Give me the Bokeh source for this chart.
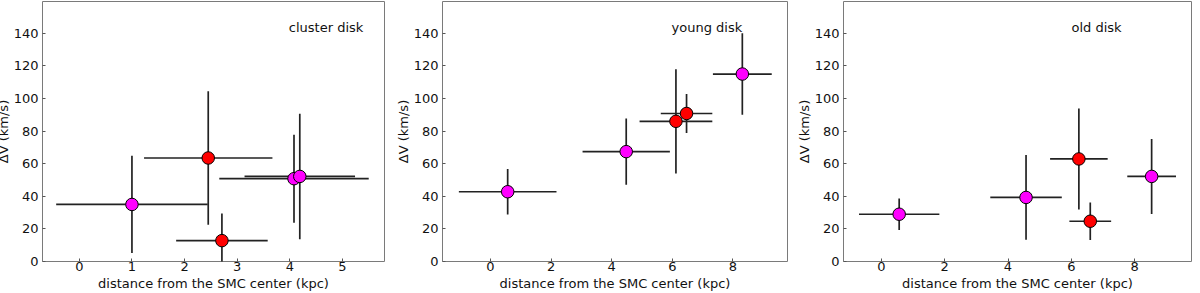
from bokeh.plotting import figure
from bokeh.layouts import row
from bokeh.models import Range1d, FixedTicker, Label
from bokeh.embed import file_html
from bokeh.resources import INLINE

# ---- data ----
# cluster disk
c_x = [1.00, 2.45, 2.71, 4.08, 4.19]
c_y = [35.0, 63.5, 12.8, 50.8, 52.2]
c_xerr = [1.44, 1.22, 0.87, 1.42, 1.05]
c_yerr = [29.8, 41.0, 16.7, 27.0, 38.5]
c_col = ["magenta", "red", "red", "magenta", "magenta"]

# young disk
y_x = [0.57, 4.48, 6.12, 6.47, 8.31]
y_y = [42.8, 67.4, 86.0, 90.8, 115.0]
y_xerr = [1.61, 1.44, 1.20, 0.85, 0.97]
y_yerr = [14.0, 20.3, 32.0, 12.0, 25.0]
y_col = ["magenta", "magenta", "red", "red", "magenta"]

# old disk
o_x = [0.56, 4.57, 6.24, 6.60, 8.54]
o_y = [29.0, 39.3, 62.9, 24.7, 52.2]
o_xerr = [1.27, 1.13, 0.91, 0.66, 0.77]
o_yerr = [9.7, 26.0, 31.0, 11.5, 23.0]
o_col = ["magenta", "magenta", "red", "red", "magenta"]

titles = ["cluster disk", "young disk", "old disk"]
xranges = [(-0.7, 5.8), (-1.58, 9.8), (-1.2, 9.8)]
xticks = [[0, 1, 2, 3, 4, 5], [0, 2, 4, 6, 8], [0, 2, 4, 6, 8]]
yticks = [0, 20, 40, 60, 80, 100, 120, 140]
title_pos = [(4.69, 143.5), (7.14, 143.5), (6.8, 143.5)]
x_label = "distance from the SMC center (kpc)"
y_label = "ΔV (km/s)"

FONT = "DejaVu Sans"
colmap = {"magenta": "#ff00ff", "red": "#ff0000"}


def panel(xs, ys, xe, ye, cols, title, xr, xt, tpos, left, right):
    p = figure(width=400, height=293, sizing_mode="fixed",
               output_backend="svg", toolbar_location=None,
               x_range=Range1d(*xr), y_range=Range1d(0, 159.5),
               min_border_left=left, min_border_right=right,
               min_border_top=1, min_border_bottom=32)
    p.outline_line_color = "#7a7a7a"
    p.outline_line_width = 1
    p.xgrid.visible = False
    p.ygrid.visible = False
    p.background_fill_color = "white"
    p.border_fill_color = "white"
    # error bars
    p.segment(x0=[x - e for x, e in zip(xs, xe)], x1=[x + e for x, e in zip(xs, xe)],
              y0=ys, y1=ys, line_color="#222222", line_width=1.7)
    p.segment(x0=xs, x1=xs, y0=[y - e for y, e in zip(ys, ye)],
              y1=[y + e for y, e in zip(ys, ye)], line_color="#222222", line_width=1.7)
    p.scatter(xs, ys, size=12.5, fill_color=[colmap[c] for c in cols],
              line_color="black", line_width=1)
    for ax in (p.xaxis[0], p.yaxis[0]):
        ax.axis_line_color = None
        ax.major_tick_in = 3
        ax.major_tick_out = 0
        ax.minor_tick_line_color = None
        ax.major_tick_line_color = "#555555"
        ax.major_label_text_font = FONT
        ax.major_label_text_font_size = "13px"
        ax.major_label_text_color = "#111111"
        ax.axis_label_text_font = FONT
        ax.axis_label_text_font_style = "normal"
        ax.axis_label_text_color = "#111111"
        ax.axis_label_text_font_size = "13px"
    p.xaxis.ticker = FixedTicker(ticks=xt)
    p.yaxis.ticker = FixedTicker(ticks=yticks)
    p.xaxis.axis_label = x_label
    p.yaxis.axis_label = y_label
    p.xaxis.major_label_standoff = 0
    p.yaxis.major_label_standoff = 4
    p.xaxis.axis_label_standoff = 2
    p.yaxis.axis_label_standoff = 0
    p.add_layout(Label(x=tpos[0], y=tpos[1], text=title, text_font=FONT,
                       text_font_size="13px", text_align="center",
                       text_baseline="middle", text_color="#111111"))
    return p


p1 = panel(c_x, c_y, c_xerr, c_yerr, c_col, titles[0], xranges[0], xticks[0], title_pos[0], 45, 8)
p2 = panel(y_x, y_y, y_xerr, y_yerr, y_col, titles[1], xranges[1], xticks[1], title_pos[1], 48, 5)
p3 = panel(o_x, o_y, o_xerr, o_yerr, o_col, titles[2], xranges[2], xticks[2], title_pos[2], 51, 1)

p = row(p1, p2, p3, spacing=0, width=1200, height=293, sizing_mode="fixed",
        styles={"margin-left": "-8px", "width": "1200px", "min-width": "1200px"})

open("out.html", "w").write(file_html(p, INLINE))
